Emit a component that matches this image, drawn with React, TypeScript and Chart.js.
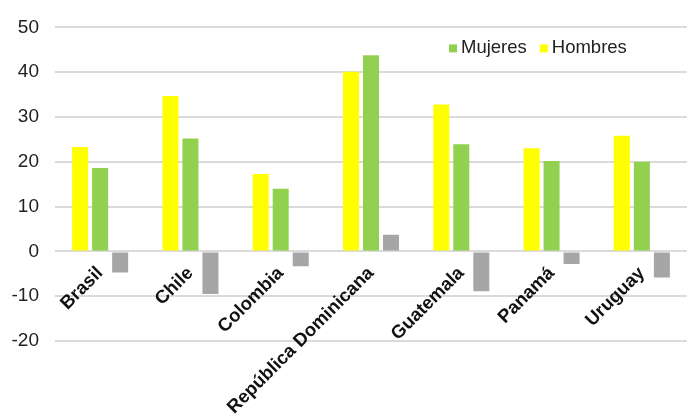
import React, { useEffect, useRef } from "react";
import { Chart, registerables } from "chart.js";

Chart.register(...registerables);

const categories = ["Brasil", "Chile", "Colombia", "República Dominicana", "Guatemala", "Panamá", "Uruguay"];
const hombres = [23.3, 34.7, 17.3, 40.1, 32.8, 23.0, 25.8];
const mujeres = [18.6, 25.2, 14.0, 43.8, 23.9, 20.2, 20.0];
const diferencia = [-4.7, -9.5, -3.3, 3.7, -8.9, -2.8, -5.8];
const yTicks = [-20, -10, 0, 10, 20, 30, 40, 50];

const FONT = "'Liberation Sans', Arial, sans-serif";

const legendPlugin = {
  id: "insideLegend",
  afterDraw(chart: any) {
    const { ctx, chartArea } = chart;
    const items = [
      { label: "Mujeres", color: "#92D050" },
      { label: "Hombres", color: "#FFFF00" },
    ];
    ctx.save();
    ctx.font = `18.5px ${FONT}`;
    ctx.textBaseline = "middle";
    ctx.textAlign = "left";
    let x = chartArea.right - 238;
    const y = chartArea.top + 21;
    for (const it of items) {
      ctx.fillStyle = it.color;
      ctx.fillRect(x, y - 4, 8, 8);
      ctx.fillStyle = "#222222";
      ctx.fillText(it.label, x + 12, y);
      x += 12 + ctx.measureText(it.label).width + 13;
    }
    ctx.restore();
  },
};

export default function App() {
  const ref = useRef<HTMLCanvasElement>(null);
  useEffect(() => {
    if (!ref.current) return;
    const chart = new Chart(ref.current, {
      type: "bar",
      data: {
        labels: categories,
        datasets: [
          { label: "Hombres", data: hombres, backgroundColor: "#FFFF00" },
          { label: "Mujeres", data: mujeres, backgroundColor: "#92D050" },
          { label: "Diferencia", data: diferencia, backgroundColor: "#A6A6A6" },
        ],
      },
      options: {
        responsive: false,
        animation: false,
        layout: { padding: { top: 24, bottom: 74, left: 0, right: 0 } },
        datasets: { bar: { barPercentage: 0.8, categoryPercentage: 0.665 } },
        plugins: { legend: { display: false }, tooltip: { enabled: false } },
        scales: {
          x: {
            position: { y: 0 } as any,
            grid: { display: false },
            border: { display: false },
            ticks: {
              autoSkip: false,
              minRotation: 45,
              maxRotation: 45,
              padding: 3,
              color: "#111111",
              font: { family: FONT, size: 18.5, weight: "bold" },
            },
          },
          y: {
            min: -20,
            max: 50,
            afterFit: (s: any) => { s.width = 55; },
            afterBuildTicks: (s: any) => { s.ticks = yTicks.map((v) => ({ value: v })); },
            grid: { color: "#dadada", lineWidth: 2, drawTicks: false },
            border: { display: false },
            ticks: {
              padding: 16,
              color: "#222222",
              font: { family: FONT, size: 19 },
            },
          },
        },
      },
      plugins: [legendPlugin],
    });
    return () => chart.destroy();
  }, []);
  return (
    <div style={{ position: "fixed", left: 0, top: 0, width: 687, height: 415, background: "#fff" }}>
      <canvas ref={ref} width={687} height={415} />
    </div>
  );
}
